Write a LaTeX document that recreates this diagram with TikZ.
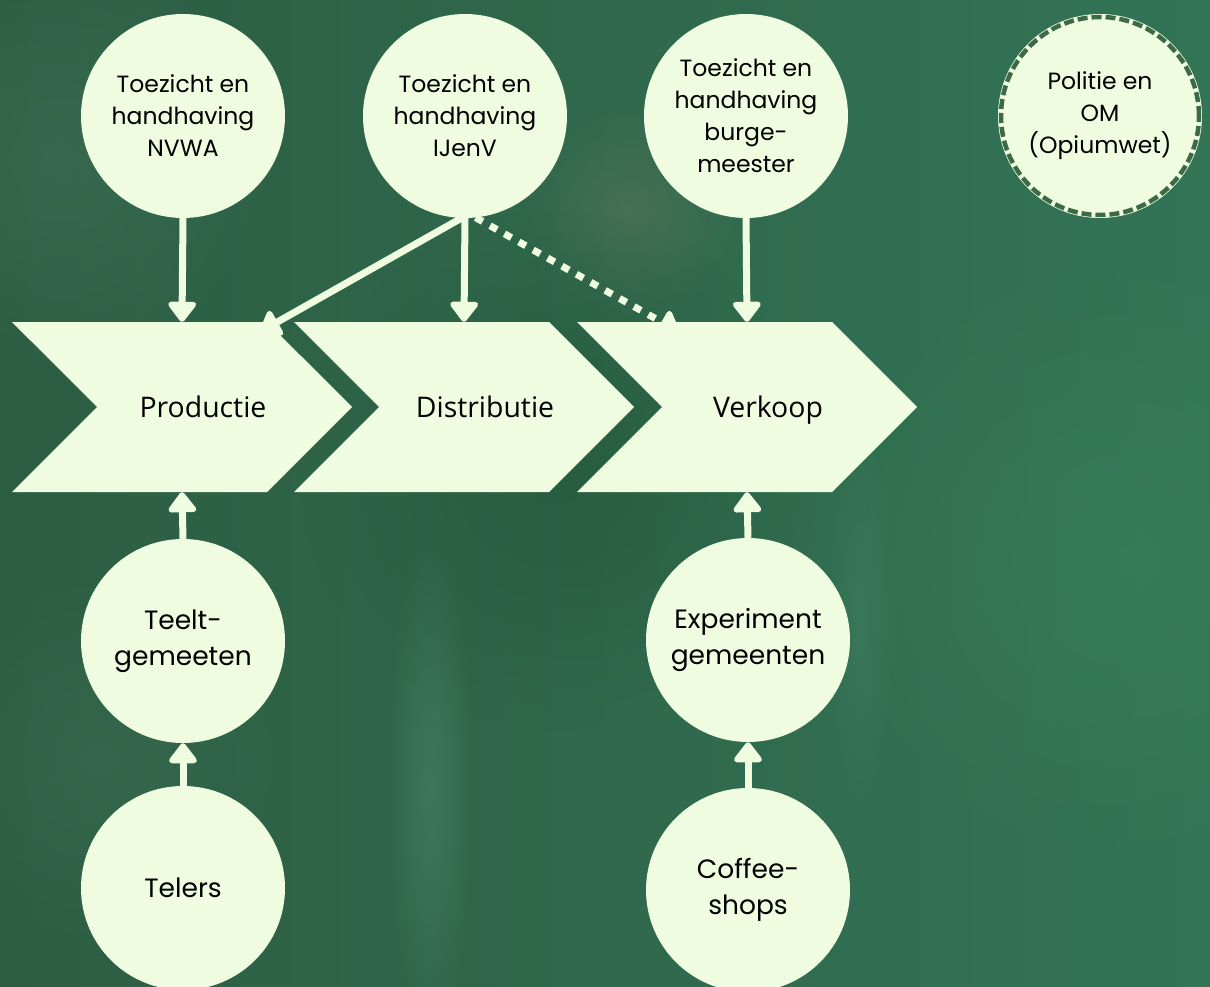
\documentclass[tikz,border=0pt]{standalone}
\usepackage{fontspec}
\setmainfont{Poppins}
\newfontfamily\chevfont{Open Sans}
\usetikzlibrary{arrows.meta,shapes.symbols,calc,fadings}
\definecolor{cream}{HTML}{EFFCDF}
\definecolor{bgA}{HTML}{2C5D43}
\definecolor{bgB}{HTML}{27583D}
\definecolor{bgC}{HTML}{337456}
\definecolor{blobR}{HTML}{3A8059}
\definecolor{blobL}{HTML}{3F7258}
\definecolor{blobBr}{HTML}{6A7A5E}
\definecolor{streak}{HTML}{4C8A6D}
\definecolor{darkG}{HTML}{1F5236}
\definecolor{dashgreen}{HTML}{3D6A46}
\tikzfading[name=softblob, inner color=transparent!0, outer color=transparent!100]
\pgfdeclarelayer{back}
\pgfdeclarelayer{bg}
\pgfsetlayers{back,bg,main}
\tikzset{
  circ/.style={circle, fill=cream, minimum size=204pt, inner sep=0pt, align=center,
    font=\fontsize{23.5}{32}\selectfont},
  circbig/.style={circ, font=\fontsize{26.5}{36}\selectfont},
  chev/.style={signal, signal to=east, signal from=west, signal pointer angle=90,
    fill=cream, minimum width=340pt, minimum height=170pt, inner sep=0pt},
  chevtext/.style={font=\chevfont\fontsize{28.4}{30}\selectfont, xshift=21pt,
    text height=26pt, text depth=6pt, inner sep=0pt},
  conn/.style={line width=7pt, draw=cream, -{Triangle[width=32pt,length=22pt,round]}},
  dotconn/.style={conn, dash pattern=on 8pt off 8.5pt},
  blob/.style={path fading=softblob}
}
\begin{document}
\begin{tikzpicture}[x=1pt,y=-1pt]
\useasboundingbox (0,0) rectangle (1210,987);
\begin{pgfonlayer}{back}
  \shade[left color=bgA, middle color=bgB, right color=bgC] (0,0) rectangle (1210,987);
  \fill[blobR, blob, opacity=0.6] (1130,560) circle (320pt);
  \fill[blobL, blob, opacity=0.55] (60,160) circle (220pt);
  \fill[blobBr, blob, opacity=0.4] (630,210) circle (110pt);
  \fill[darkG, blob, opacity=0.5] (560,470) circle (260pt);
  \fill[streak, blob, opacity=0.5] (430,790) ellipse (45pt and 260pt);
  \fill[streak, blob, opacity=0.35] (860,620) ellipse (35pt and 200pt);
  \fill[blobL, blob, opacity=0.4] (100,760) circle (200pt);
\end{pgfonlayer}

% top circles
\node[circ] (nvwa) at (183,116) {Toezicht en\\handhaving\\NVWA};
\node[circ] (ijenv) at (465,116) {Toezicht en\\handhaving\\IJenV};
\node[circ] (burg) at (746,116) {Toezicht en\\handhaving\\burge-\\meester};
\node[circ] (politie) at (1100,116) {Politie en\\OM\\(Opiumwet)};
\draw[dashgreen, line width=4.5pt, dash pattern=on 10pt off 4pt] (politie.center) circle (99pt);

% chevrons
\node[chev, label={[chevtext, name=prodtxt]center:Productie}] (prod) at (182,407) {};
\node[chev, label={[chevtext, name=disttxt]center:Distributie}] (dist) at (464,407) {};
\node[chev, label={[chevtext, name=verktxt]center:Verkoop}] (verk) at (747,407) {};

% bottom circles
\node[circbig] (teelt) at (183,641) {Teelt-\\gemeeten};
\node[circbig] (telers) at (183,888) {Telers};
\node[circbig] (exp) at (748,640) {Experiment\\gemeenten};
\node[circbig] (coffee) at (748,890) {Coffee-\\shops};

\coordinate (prodin) at ($(prod.north)+(78,10)$);
\coordinate (verkin) at ($(verk.north)+(-68,10)$);

\begin{pgfonlayer}{bg}
  \draw[conn] (nvwa.south) -- (prod.north);
  \draw[conn] (ijenv.south) -- (dist.north);
  \draw[conn] (ijenv.-92) -- (prodin);
  \draw[dotconn] (ijenv.-84) -- (verkin);
  \draw[conn] (burg.south) -- (verk.north);
  \draw[conn] (teelt.north) -- (prod.south);
  \draw[conn] (telers.north) -- (teelt.south);
  \draw[conn] (exp.north) -- (verk.south);
  \draw[conn] (coffee.north) -- (exp.south);
\end{pgfonlayer}
\end{tikzpicture}
\end{document}
